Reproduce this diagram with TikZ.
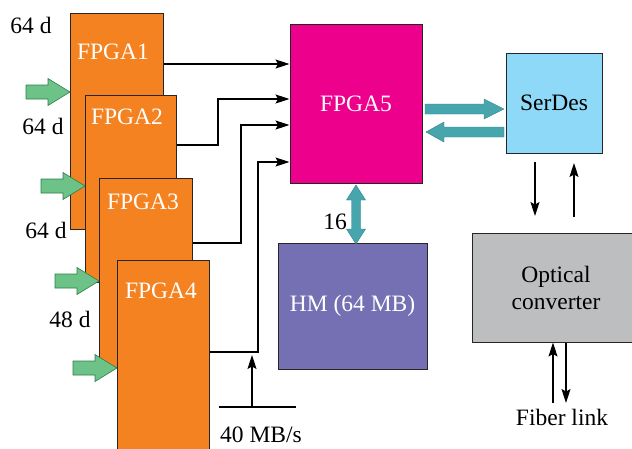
\documentclass[tikz,border=0pt]{standalone}
\usepackage{fontspec}
\setmainfont{Liberation Serif}
\newfontfamily\tnrfont{Liberation Serif}
\usetikzlibrary{arrows.meta}
\definecolor{forange}{HTML}{F58220}
\definecolor{fmagenta}{HTML}{EC008C}
\definecolor{fserdes}{HTML}{8ED8F8}
\definecolor{fhm}{HTML}{7570B3}
\definecolor{fgrey}{HTML}{BCBEC0}
\definecolor{fteal}{HTML}{47A6AD}
\definecolor{ftealdark}{HTML}{2F7F86}
\definecolor{fgreen}{HTML}{6CC287}
\definecolor{fgreendark}{HTML}{2E7D4A}
\newcommand\greenarrow[2]{%
  \draw[garrow] (#1,#2) ++(0,-7) -- ++(22,0) -- ++(0,-6.5) -- ++(22,13.5) -- ++(-22,13.5) -- ++(0,-6.5) -- ++(-22,0) -- cycle;}
\begin{document}
\begin{tikzpicture}[x=1pt,y=-1pt,
  box/.style={draw=black!85, line width=1pt, inner sep=0pt, font=\tnrfont\fontsize{23.5}{27}\selectfont},
  txt/.style={inner sep=0pt, font=\tnrfont\fontsize{23.5}{27}\selectfont},
  wtxt/.style={txt, text=white},
  conn/.style={draw=black, line width=1.1pt, -{Stealth[length=14pt,width=9pt,inset=2.5pt]}},
  plain/.style={draw=black, line width=1.1pt},
  garrow/.style={fill=fgreen, draw=fgreendark, line width=0.6pt},
  tarrow/.style={fill=fteal, draw=ftealdark, line width=0.4pt}]
\useasboundingbox (0,0) rectangle (632,448);
\clip (0,0) rectangle (632,448);
\fill[white] (0,0) rectangle (632,448);

% FPGA stack
\node[box, fill=forange, minimum width=93pt, minimum height=216pt] (F1) at (116.5,121) {};
\node[wtxt] (t1) at (113,52) {FPGA1};
\greenarrow{26}{92}
\node[box, fill=forange, minimum width=91pt, minimum height=187pt] (F2) at (130.5,188.5) {};
\node[wtxt] (t2) at (127,117) {FPGA2};
\greenarrow{41}{186}
\node[box, fill=forange, minimum width=93pt, minimum height=189pt] (F3) at (145.5,272.5) {};
\node[wtxt] (t3) at (143,202) {FPGA3};
\greenarrow{55}{281}
\node[box, fill=forange, minimum width=92pt, minimum height=210pt] (F4) at (163,365) {};
\node[wtxt] (t4) at (161,291) {FPGA4};
\greenarrow{73}{368}

% labels left
\node[txt] (l1) at (31,25) {64 d};
\node[txt] (l2) at (43,126) {64 d};
\node[txt] (l3) at (46,230) {64 d};
\node[txt] (l4) at (70,319) {48 d};

% main boxes
\node[box, fill=fmagenta, text=white, minimum width=132pt, minimum height=159pt] (F5) at (356,103.5) {FPGA5};
\node[box, fill=fserdes, minimum width=96pt, minimum height=100pt] (SD) at (554,103) {SerDes};
\node[box, fill=fhm, text=white, minimum width=149pt, minimum height=126pt] (HM) at (352.5,306) {HM (64 MB)};
\node[box, fill=fgrey, minimum width=168pt, minimum height=109pt, align=center] (OC) at (556,287.5) {Optical\\converter};

% connectors FPGA -> FPGA5
\coordinate (y1) at (0,64);
\coordinate (c2a) at (218,145);
\coordinate (c2b) at (218,99);
\coordinate (c3a) at (241,243);
\coordinate (c3b) at (241,125);
\coordinate (c4a) at (258,352);
\coordinate (c4b) at (258,162);
\draw[conn] (F1.east |- y1) -- (F5.west |- y1);
\draw[conn] (F2.east |- c2a) -- (c2a) -- (c2b) -- (F5.west |- c2b);
\draw[conn] (F3.east |- c3a) -- (c3a) -- (c3b) -- (F5.west |- c3b);
\draw[conn] (F4.east |- c4a) -- (c4a) -- (c4b) -- (F5.west |- c4b);

% 40 MB/s bus
\coordinate (busL) at (219,407);
\coordinate (busR) at (296,407);
\coordinate (busM) at (252,407);
\coordinate (busT) at (252,355);
\draw[plain] (busL) -- (busR);
\draw[conn] (busM) -- (busT);
\node[txt] (bl) at (261,435) {40 MB/s};

% teal arrows FPGA5 <-> SerDes
\draw[tarrow] (425,104) -- (484,104) -- (484,99) -- (504,109) -- (484,119) -- (484,114) -- (425,114) -- cycle;
\draw[tarrow] (504,127) -- (444,127) -- (444,122) -- (426,132) -- (444,142) -- (444,137) -- (504,137) -- cycle;

% teal double arrow FPGA5 <-> HM
\draw[tarrow] (356,185) -- (365.5,200) -- (360.5,200) -- (360.5,229) -- (365.5,229) -- (356,244) -- (346.5,229) -- (351.5,229) -- (351.5,200) -- (346.5,200) -- cycle;
\node[txt] (n16) at (335,222) {16};

% SerDes <-> optical
\coordinate (sd1) at (535,162);
\coordinate (sd2) at (535,216);
\coordinate (su1) at (574,217);
\coordinate (su2) at (574,163);
\draw[conn] (sd1) -- (sd2);
\draw[conn] (su1) -- (su2);

% fiber link
\coordinate (fu) at (553,403);
\coordinate (fd) at (566,403);
\draw[conn] (fu) -- (OC.south -| fu);
\draw[conn] (OC.south -| fd) -- (fd);
\node[txt] (fl) at (562,417) {Fiber link};
\end{tikzpicture}
\end{document}
